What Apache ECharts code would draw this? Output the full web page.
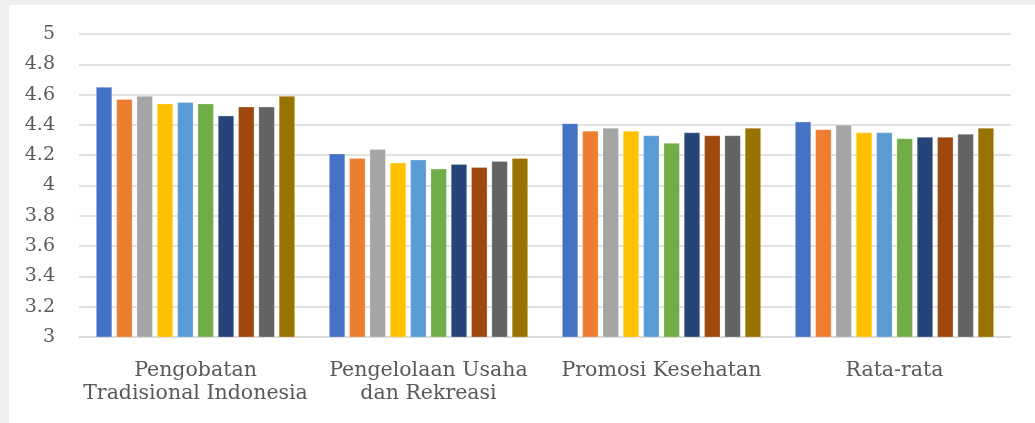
<!DOCTYPE html>
<html>
<head>
<meta charset="utf-8">
<script src="https://cdn.jsdelivr.net/npm/echarts@6/dist/echarts.min.js"></script>
<style>
  html, body { margin: 0; padding: 0; background: #eeeeee; }
  #chart { position: absolute; left: 9px; top: 5px; width: 1026px; height: 418px; background: #fff; }
</style>
</head>
<body>
<div id="chart"></div>
<script>
// kategori sumbu x
var categories = ['Pengobatan\nTradisional Indonesia', 'Pengelolaan Usaha\ndan Rekreasi', 'Promosi Kesehatan', 'Rata-rata'];
// nilai tiap seri (10 seri)
var s1 = [4.65, 4.21, 4.41, 4.42];
var s2 = [4.57, 4.18, 4.36, 4.37];
var s3 = [4.59, 4.24, 4.38, 4.40];
var s4 = [4.54, 4.15, 4.36, 4.35];
var s5 = [4.55, 4.17, 4.33, 4.35];
var s6 = [4.54, 4.11, 4.28, 4.31];
var s7 = [4.46, 4.14, 4.35, 4.32];
var s8 = [4.52, 4.12, 4.33, 4.32];
var s9 = [4.52, 4.16, 4.33, 4.34];
var s10 = [4.59, 4.18, 4.38, 4.38];
var allSeries = [s1, s2, s3, s4, s5, s6, s7, s8, s9, s10];
var colors = ['#4472C4', '#ED7D31', '#A5A5A5', '#FFC000', '#5B9BD5', '#70AD47', '#264478', '#9E480E', '#636363', '#997300'];

var myChart = echarts.init(document.getElementById('chart'));
var option = {
  animation: false,
  color: colors,
  grid: { left: 70, right: 24, top: 29, bottom: 86 },
  xAxis: {
    type: 'category',
    data: categories,
    axisLine: { lineStyle: { color: '#d9d9d9', width: 1.5 } },
    axisTick: { show: false },
    axisLabel: {
      color: '#595959',
      fontFamily: 'DejaVu Serif',
      fontSize: 20.5,
      lineHeight: 23,
      margin: 22,
      interval: 0
    }
  },
  yAxis: {
    type: 'value',
    min: 3,
    max: 5,
    interval: 0.2,
    axisLine: { show: false },
    axisTick: { show: false },
    splitLine: { lineStyle: { color: '#d9d9d9', width: 1.5 } },
    axisLabel: {
      color: '#595959',
      fontFamily: 'DejaVu Serif',
      fontSize: 19,
      margin: 24,
      formatter: function (v) { return String(Math.round(v * 10) / 10); }
    }
  },
  series: allSeries.map(function (d, i) {
    return {
      name: 'Seri ' + (i + 1),
      type: 'bar',
      data: d,
      barWidth: 16,
      barGap: '27%',
      itemStyle: { borderColor: 'rgba(255,255,255,0.5)', borderWidth: 0.5 }
    };
  })
};
myChart.setOption(option);
</script>
</body>
</html>
